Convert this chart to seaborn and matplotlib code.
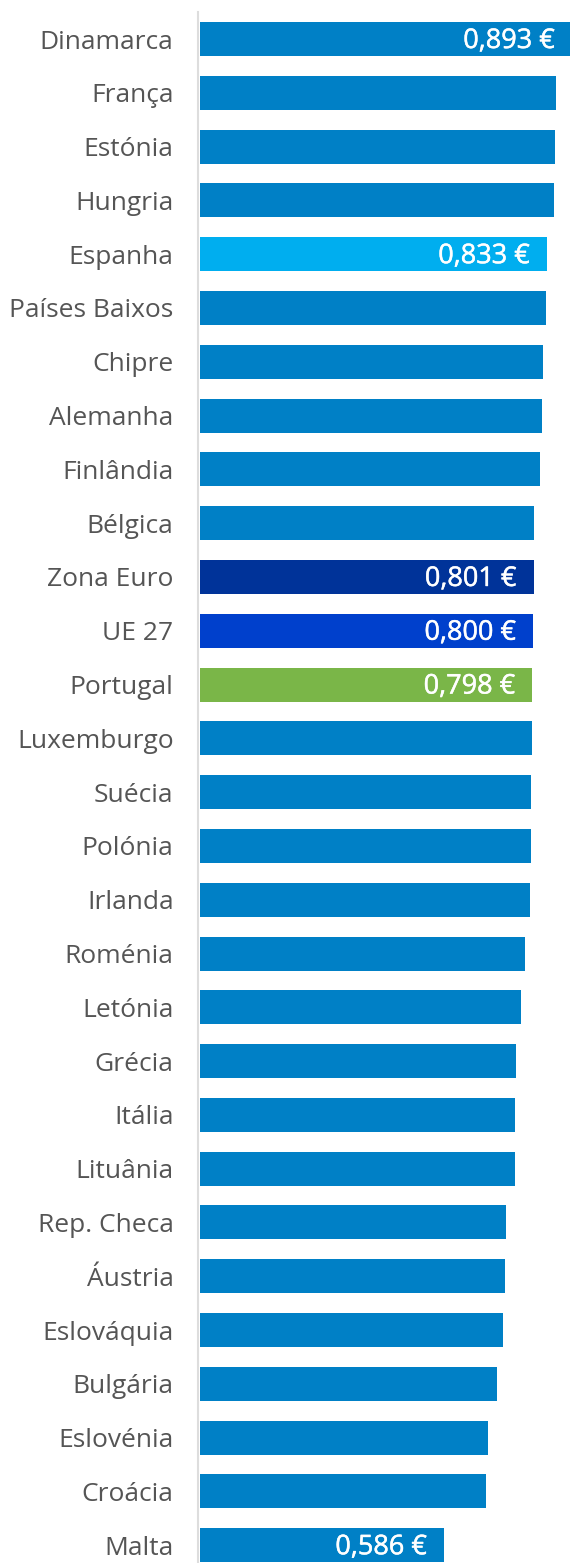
import matplotlib
matplotlib.use("Agg")
import matplotlib.pyplot as plt
import matplotlib.patheffects as pe
import seaborn as sns
import pandas as pd

# price per country (EUR), sorted as in the source
countries = ["Dinamarca", "França", "Estónia", "Hungria", "Espanha", "Países Baixos",
             "Chipre", "Alemanha", "Finlândia", "Bélgica", "Zona Euro", "UE 27",
             "Portugal", "Luxemburgo", "Suécia", "Polónia", "Irlanda", "Roménia",
             "Letónia", "Grécia", "Itália", "Lituânia", "Rep. Checa", "Áustria",
             "Eslováquia", "Bulgária", "Eslovénia", "Croácia", "Malta"]
values = [0.893, 0.855, 0.853, 0.850, 0.833, 0.831,
          0.824, 0.821, 0.817, 0.802, 0.801, 0.800,
          0.798, 0.797, 0.795, 0.794, 0.793, 0.781,
          0.772, 0.758, 0.757, 0.756, 0.734, 0.733,
          0.727, 0.713, 0.692, 0.687, 0.586]
# only these bars get a value label
labelled = {"Dinamarca": "0,893 €", "Espanha": "0,833 €", "Zona Euro": "0,801 €",
            "UE 27": "0,800 €", "Portugal": "0,798 €", "Malta": "0,586 €"}

base_color = "#0080C6"
highlight = {"Espanha": "#00AEEF", "Zona Euro": "#003399",
             "UE 27": "#0040CC", "Portugal": "#7AB648"}
palette = {c: highlight.get(c, base_color) for c in countries}

df = pd.DataFrame({"country": countries, "value": values})

sns.set_style("white")
plt.rcParams["font.family"] = ["Open Sans", "DejaVu Sans"]

fig = plt.figure(figsize=(5.7, 15.63), dpi=100)
ax = fig.add_axes([199.5 / 570, 0, 370.5 / 570, 1])

sns.barplot(data=df, y="country", x="value", hue="country", palette=palette,
            order=countries, hue_order=countries, orient="h", width=0.632,
            saturation=1, legend=False, ax=ax, linewidth=0)

px_per_unit = 417
ax.set_xlim(0, 370.5 / px_per_unit)
ax.set_ylim(28.33, -0.725)

# value labels inside the bar end (slight stroke to get a medium weight)
for i, c in enumerate(countries):
    if c in labelled:
        ax.annotate(labelled[c], xy=(values[i], i), xytext=(-17, -2),
                    textcoords="offset pixels", ha="right", va="center",
                    color="white", fontsize=19.5,
                    path_effects=[pe.withStroke(linewidth=0.35, foreground="white")],
                    annotation_clip=False)

for s in ["top", "right", "bottom"]:
    ax.spines[s].set_visible(False)
ax.spines["left"].set_color("#dddddd")
ax.spines["left"].set_linewidth(1.5)
ax.spines["left"].set_position(("outward", 1.2))
ax.spines["left"].set_bounds(-0.5, 28.33)

ax.set_xticks([])
ax.set_xlabel("")
ax.set_ylabel("")
ax.tick_params(axis="y", length=0, pad=17.5, labelsize=19, labelcolor="#555555")

fig.savefig("out.png", dpi=100)
